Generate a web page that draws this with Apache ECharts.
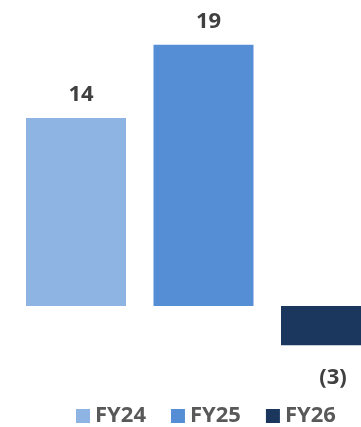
<!DOCTYPE html>
<html>
<head>
<meta charset="utf-8">
<script src="https://cdn.jsdelivr.net/npm/echarts@6/dist/echarts.min.js"></script>
<style>
  html, body { margin: 0; padding: 0; background: #fff; }
  #chart { width: 361px; height: 427px; }
</style>
</head>
<body>
<div id="chart"></div>
<script>
  // data
  var categories = ['FY24', 'FY25', 'FY26'];
  var seriesNames = ['FY24', 'FY25', 'FY26'];
  var values = [13.9, 19.3, -2.9];
  var colors = ['#8EB4E3', '#558ED5', '#1B375E'];

  var myChart = echarts.init(document.getElementById('chart'));

  function fmt(p) {
    var v = p.value;
    return v < 0 ? '(' + Math.round(-v) + ')' : String(Math.round(v));
  }

  var series = seriesNames.map(function (name, i) {
    var data = categories.map(function (c, j) { return j === i ? values[i] : '-'; });
    var neg = values[i] < 0;
    return {
      name: name,
      type: 'bar',
      stack: 'all',
      barWidth: 100,
      data: data,
      itemStyle: { color: colors[i] },
      label: {
        show: true,
        position: neg ? 'bottom' : 'top',
        distance: neg ? 21 : 12,
        offset: neg ? [2, 0] : [5, 0],
        formatter: fmt,
        color: '#404040',
        fontSize: 22,
        fontWeight: 'bold',
        fontFamily: 'Open Sans'
      }
    };
  });

  var option = {
    animation: false,
    legend: {
      data: seriesNames,
      left: 76,
      top: 405,
      padding: 0,
      itemWidth: 14,
      itemHeight: 14,
      itemGap: 25,
      icon: 'rect',
      textStyle: {
        color: '#595959',
        fontSize: 22,
        fontWeight: 'bold',
        fontFamily: 'Open Sans'
      }
    },
    // the last bar runs past the right edge, so the grid is wider than the canvas
    grid: { left: 12.25, width: 382.5, top: 35.4, bottom: 53.35, outerBoundsMode: 'none' },
    xAxis: {
      type: 'category',
      data: categories,
      show: false
    },
    yAxis: {
      type: 'value',
      min: -5,
      max: 20,
      show: false,
      splitLine: { show: false }
    },
    series: series
  };

  myChart.setOption(option);
  window.addEventListener('resize', myChart.resize);
</script>
</body>
</html>
